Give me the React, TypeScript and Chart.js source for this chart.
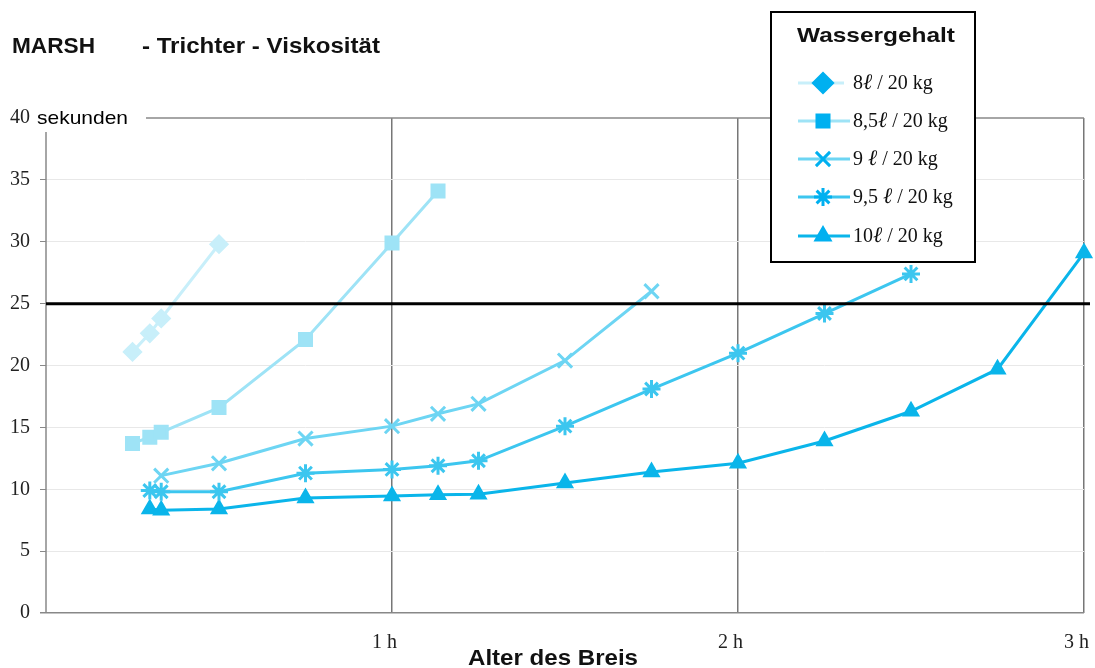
import React, { useEffect, useRef } from "react";
import { Chart, registerables } from "chart.js";
import { drawPoint } from "chart.js/helpers";

Chart.register(...registerables);

const seriesLabels = ["8\u2113 / 20 kg", "8,5\u2113 / 20 kg", "9 \u2113 / 20 kg", "9,5 \u2113 / 20 kg", "10\u2113 / 20 kg"];

const t8 = [0.25, 0.3, 0.333, 0.5];
const v8 = [21.1, 22.6, 23.8, 29.8];
const t85 = [0.25, 0.3, 0.333, 0.5, 0.75, 1.0, 1.133];
const v85 = [13.7, 14.2, 14.6, 16.6, 22.1, 29.9, 34.1];
const t9 = [0.333, 0.5, 0.75, 1.0, 1.133, 1.25, 1.5, 1.75];
const v9 = [11.1, 12.1, 14.1, 15.1, 16.1, 16.9, 20.4, 26.0];
const t95 = [0.3, 0.333, 0.5, 0.75, 1.0, 1.133, 1.25, 1.5, 1.75, 2.0, 2.25, 2.5];
const v95 = [9.9, 9.8, 9.8, 11.3, 11.6, 11.9, 12.3, 15.1, 18.1, 21.0, 24.2, 27.4];
const t10 = [0.3, 0.333, 0.5, 0.75, 1.0, 1.133, 1.25, 1.5, 1.75, 2.0, 2.25, 2.5, 2.75, 3.0];
const v10 = [8.4, 8.3, 8.4, 9.3, 9.45, 9.55, 9.6, 10.5, 11.4, 12.1, 13.9, 16.3, 19.7, 29.1];

const xTickLabels = ["", "1 h", "2 h", "3 h"];
const thresholdValue = 25;

const lineColors = ["#c8effa", "#9ee3f6", "#6dd5f3", "#3cc6ef", "#0ab5ea"];
const pointStyles = ["rectRot", "rect", "crossRot", "star", "triangle"];
const pointRadii = [8, 8.5, 10, 9, 7.5];
const legendRadii = [9.5, 8.5, 10, 9, 8];
const legendMarkerColor = "#00b0f0";

const times = [t8, t85, t9, t95, t10];
const values = [v8, v85, v9, v95, v10];

const SERIF = "'Liberation Serif', 'Times New Roman', serif";
const SANS = "'Liberation Sans', Arial, sans-serif";

function drawFit(ctx: any, text: string, x: number, y: number, width: number, align: string) {
  const w = ctx.measureText(text).width;
  const s = width / w;
  ctx.save();
  let left = x;
  if (align === "center") left = x - width / 2;
  ctx.translate(left, y);
  ctx.scale(s, 1);
  ctx.textAlign = "left";
  ctx.fillText(text, 0, 0);
  ctx.restore();
}

const decorPlugin = {
  id: "decor",
  beforeDatasetsDraw(chart: any) {
    const { ctx, chartArea, scales } = chart;
    const y = scales.y;
    ctx.save();
    ctx.strokeStyle = "#888";
    ctx.lineWidth = 1.5;
    ctx.beginPath();
    ctx.moveTo(146, y.getPixelForValue(40));
    ctx.lineTo(chartArea.right, y.getPixelForValue(40));
    ctx.stroke();
    ctx.beginPath();
    ctx.moveTo(chartArea.left, 132);
    ctx.lineTo(chartArea.left, chartArea.bottom);
    ctx.stroke();
    ctx.restore();
  },
  afterDatasetsDraw(chart: any) {
    const { ctx, chartArea, scales } = chart;
    const y = scales.y;
    ctx.save();
    ctx.strokeStyle = "#000";
    ctx.lineWidth = 3;
    const yp = y.getPixelForValue(thresholdValue);
    ctx.beginPath();
    ctx.moveTo(chartArea.left, yp);
    ctx.lineTo(chartArea.right + 6, yp);
    ctx.stroke();

    ctx.fillStyle = "#000";
    ctx.textBaseline = "middle";
    ctx.font = `19px ${SANS}`;
    drawFit(ctx, "sekunden", 37, y.getPixelForValue(40) + 1, 91, "left");

    ctx.font = `bold 22px ${SANS}`;
    ctx.fillStyle = "#111";
    drawFit(ctx, "MARSH", 12, 47, 83, "left");
    drawFit(ctx, "- Trichter - Viskosit\u00e4t", 142, 47, 238, "left");

    drawFit(ctx, "Alter des Breis", 553, 659, 170, "center");

    const lx = 771, ly = 12, lw = 204, lh = 250;
    ctx.fillStyle = "#fff";
    ctx.fillRect(lx, ly, lw, lh);
    ctx.strokeStyle = "#000";
    ctx.lineWidth = 2;
    ctx.strokeRect(lx, ly, lw, lh);
    ctx.fillStyle = "#111";
    ctx.font = `bold 21px ${SANS}`;
    drawFit(ctx, "Wassergehalt", 876, 36, 158, "center");

    const rowsY = [83, 121, 159, 197, 236];
    chart.data.datasets.forEach((ds: any, i: number) => {
      const ry = rowsY[i];
      ctx.strokeStyle = ds.borderColor;
      ctx.lineWidth = 3;
      ctx.beginPath();
      ctx.moveTo(798, ry);
      ctx.lineTo(i === 0 ? 844 : 850, ry);
      ctx.stroke();
      ctx.fillStyle = legendMarkerColor;
      ctx.strokeStyle = legendMarkerColor;
      ctx.lineWidth = 3;
      drawPoint(ctx, { pointStyle: pointStyles[i], radius: legendRadii[i], rotation: 0, borderWidth: 3 }, 823, ry);
      ctx.fillStyle = "#111";
      ctx.textAlign = "left";
      const parts = seriesLabels[i].split("\u2113");
      let x = 853;
      ctx.font = `20px ${SERIF}`;
      ctx.fillText(parts[0], x, ry + 1);
      x += ctx.measureText(parts[0]).width;
      ctx.font = `italic 22px ${SERIF}`;
      ctx.fillText("\u2113", x, ry);
      x += ctx.measureText("\u2113").width;
      ctx.font = `20px ${SERIF}`;
      ctx.fillText(parts[1], x, ry + 1);
    });
    ctx.restore();
  },
};

export default function App() {
  const ref = useRef<HTMLCanvasElement | null>(null);
  useEffect(() => {
    if (!ref.current) return;
    const datasets = values.map((vals, i) => ({
      label: seriesLabels[i],
      data: vals.map((v, j) => ({ x: times[i][j], y: v })),
      borderColor: lineColors[i],
      backgroundColor: lineColors[i],
      pointBackgroundColor: lineColors[i],
      pointBorderColor: lineColors[i],
      borderWidth: 3,
      pointBorderWidth: 3,
      pointStyle: pointStyles[i],
      pointRadius: pointRadii[i],
      tension: 0,
      clip: false as any,
    }));
    const chart = new Chart(ref.current, {
      type: "line",
      data: { datasets },
      options: {
        animation: false,
        responsive: false,
        maintainAspectRatio: false,
        layout: { padding: { top: 118, right: 4, left: 0, bottom: 0 } },
        plugins: { legend: { display: false }, tooltip: { enabled: false }, title: { display: false } },
        scales: {
          x: {
            type: "linear",
            min: 0,
            max: 3,
            afterFit: (s: any) => {
              s.height = 55;
            },
            border: { display: false },
            grid: {
              drawTicks: false,
              color: (c: any) => (c.tick && c.tick.value > 0 ? "#777" : "rgba(0,0,0,0)"),
              lineWidth: 1.5,
            },
            ticks: {
              stepSize: 1,
              padding: 18,
              align: "end",
              labelOffset: 5,
              maxRotation: 0,
              color: "#222",
              font: { family: SERIF, size: 20 },
              callback: (v: any) => xTickLabels[Math.round(Number(v))] ?? "",
            },
          },
          y: {
            min: 0,
            max: 40,
            afterFit: (s: any) => { s.width = 46; },
            border: { display: false },
            grid: {
              tickLength: 6,
              tickColor: "#888",
              color: (c: any) => {
                const v = c.tick ? c.tick.value : -1;
                if (v === 0) return "#888";
                if (v === 40) return "rgba(0,0,0,0)";
                return "#e8e8e8";
              },
              lineWidth: (c: any) => (c.tick && c.tick.value === 0 ? 1.5 : 1),
            },
            ticks: {
              stepSize: 5,
              padding: 10,
              color: "#222",
              font: { family: SERIF, size: 20 },
            },
          },
        },
      },
      plugins: [decorPlugin],
    } as any);
    return () => chart.destroy();
  }, []);
  return (
    <div style={{ position: "absolute", left: 0, top: 0, width: 1095, height: 668, background: "#fff", overflow: "hidden" }}>
      <canvas ref={ref} width={1102} height={668} style={{ display: "block" }} />
    </div>
  );
}
